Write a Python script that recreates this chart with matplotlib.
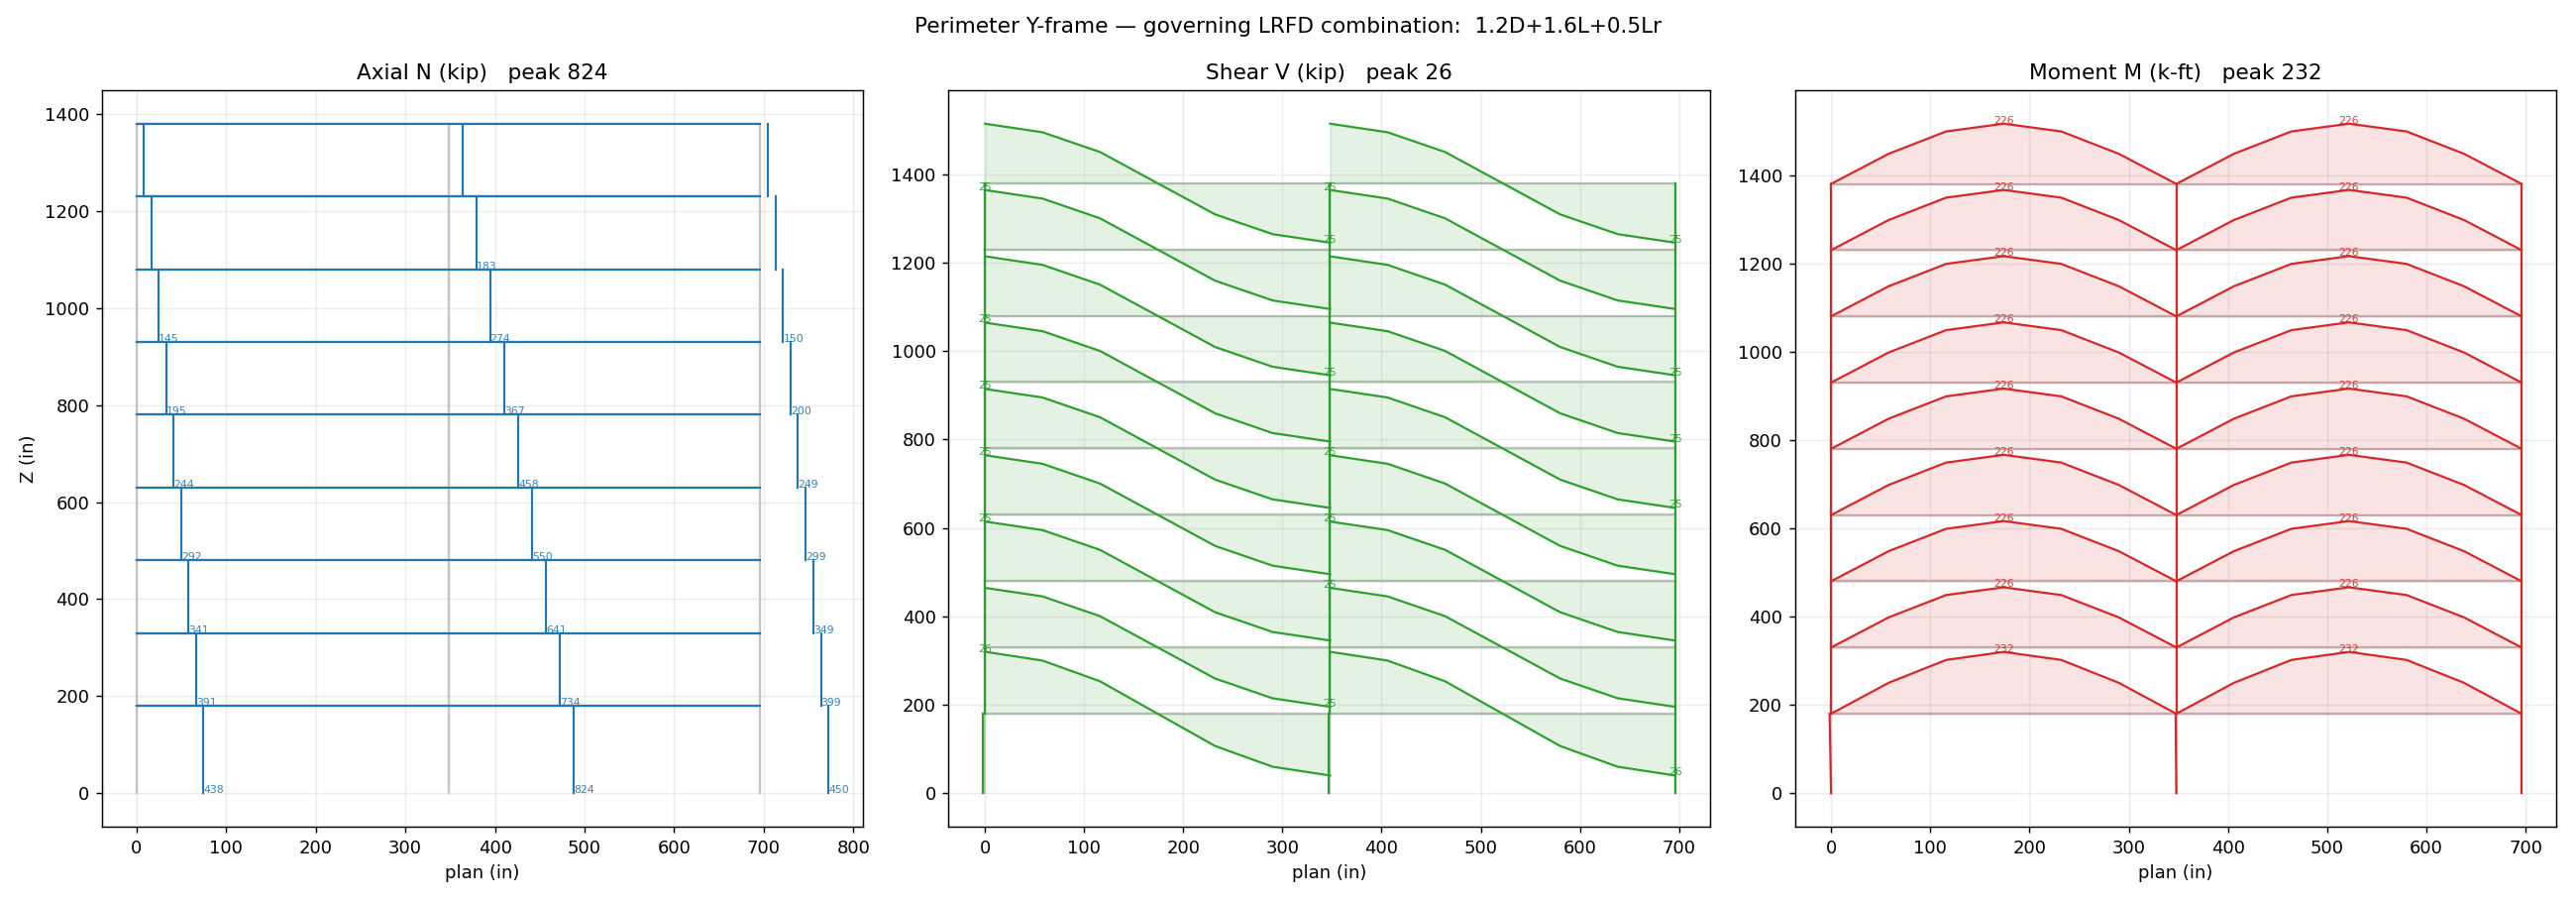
"""Perimeter Y-frame force diagrams for the governing LRFD combination."""

import matplotlib
matplotlib.use("Agg")
import matplotlib.pyplot as plt

# Geometry (in)
STORY_Z = [180, 330, 480, 630, 780, 930, 1080, 1230, 1380]
COLUMN_X = [0, 348, 696]
BEAM_STATIONS = [0, 58, 116, 174, 232, 290, 348]

# Column axial force per segment, base upward (kip)
AXIAL_COL_LEFT = [438, 391, 341, 292, 244, 195, 145, 96, 47]
AXIAL_COL_MID = [824, 734, 641, 550, 458, 367, 274, 183, 92]
AXIAL_COL_RIGHT = [450, 399, 349, 299, 249, 200, 150, 100, 50]

# Beam shear along a span (kip)
SHEAR_LOWEST = [26, 22.3, 13.6, 0, -13.6, -22.3, -26]
SHEAR_TYPICAL = [25, 21.4, 13.1, 0, -13.1, -21.4, -25]
# which end of the span carries the larger shear, per story
SHEAR_PEAK_END_SPAN1 = [0, -1, 0, 0, 0, 0, -1, 0, -1]
SHEAR_PEAK_END_SPAN2 = [-1, 0, 0, 0, -1, -1, -1, 0, -1]
# column shear, lowest segment then the ones above (kip)
COL_SHEAR_BASE = [-0.35, -0.2, 0.0]
COL_SHEAR_UPPER = [-0.1, -0.05, 0.0]

# Beam moment along a span (k-ft)
MOMENT_LOWEST = [0, 116, 202, 232, 202, 116, 0]
MOMENT_TYPICAL = [0, 113, 197, 226, 197, 113, 0]
# column moment at the top of the lowest segment (k-ft)
COL_MOMENT_BASE_TOP = [-2.5, -1.2, 0.0]

BLUE = "#1f77b4"
GREEN = "#2ca02c"
RED = "#d62728"
FRAME_GREY = "0.77"
LW = 1.2
TARGET = 140.0  # largest value is drawn this many inches from the member
LABEL_SIZE = 6


def draw_frame(ax):
    for x in COLUMN_X:
        ax.plot([x, x], [0, STORY_Z[-1]], color=FRAME_GREY, lw=1.3, zorder=1)
    for z in STORY_Z:
        ax.plot([COLUMN_X[0], COLUMN_X[-1]], [z, z], color=FRAME_GREY, lw=1.3, zorder=1)


def draw_span_curve(ax, x0, z, values, scale, color):
    xs = [x0 + s for s in BEAM_STATIONS]
    ys = [z + v * scale for v in values]
    ax.fill_between(xs, z, ys, color=color, alpha=0.13, zorder=2)
    ax.plot(xs, ys, color=color, lw=LW, zorder=3)
    return xs, ys


def plot_axial(ax):
    peak = max(AXIAL_COL_LEFT + AXIAL_COL_MID + AXIAL_COL_RIGHT)
    scale = TARGET / peak
    draw_frame(ax)
    for z in STORY_Z:
        ax.fill_between(COLUMN_X, z, z, color=BLUE, alpha=0.13, zorder=2)
        ax.plot(COLUMN_X, [z, z, z], color=BLUE, lw=LW, zorder=3)
    bottoms = [0] + STORY_Z[:-1]
    columns = [AXIAL_COL_LEFT, AXIAL_COL_MID, AXIAL_COL_RIGHT]
    for x, forces in zip(COLUMN_X, columns):
        for z0, z1, n in zip(bottoms, STORY_Z, forces):
            xn = x + n * scale
            ax.plot([xn, xn], [z0, z1], color=BLUE, lw=LW, zorder=3)
            if n > 0.15 * peak:
                ax.text(xn, z0, f"{n}", color=BLUE, fontsize=LABEL_SIZE, alpha=0.9, zorder=4)
    ax.set_title(f"Axial N (kip)   peak {peak}", fontsize=12)


def plot_shear(ax):
    peak = max(SHEAR_LOWEST)
    scale = TARGET / peak
    draw_frame(ax)
    bottoms = [0] + STORY_Z[:-1]
    for i, z in enumerate(STORY_Z):
        values = SHEAR_LOWEST if i == 0 else SHEAR_TYPICAL
        ends = (SHEAR_PEAK_END_SPAN1[i], SHEAR_PEAK_END_SPAN2[i])
        for x0, end in zip(COLUMN_X[:2], ends):
            xs, ys = draw_span_curve(ax, x0, z, values, scale, GREEN)
            ax.text(xs[end], ys[end], f"{abs(values[end])}", color=GREEN,
                    fontsize=LABEL_SIZE, ha="center", alpha=0.9, zorder=4)
    for j, x in enumerate(COLUMN_X):
        for i, (z0, z1) in enumerate(zip(bottoms, STORY_Z)):
            v = COL_SHEAR_BASE[j] if i == 0 else COL_SHEAR_UPPER[j]
            ax.plot([x + v * scale] * 2, [z0, z1], color=GREEN, lw=LW, zorder=3)
    ax.set_title(f"Shear V (kip)   peak {peak}", fontsize=12)


def plot_moment(ax):
    peak = max(MOMENT_LOWEST)
    scale = TARGET / peak
    draw_frame(ax)
    for i, z in enumerate(STORY_Z):
        values = MOMENT_LOWEST if i == 0 else MOMENT_TYPICAL
        for x0 in COLUMN_X[:2]:
            xs, ys = draw_span_curve(ax, x0, z, values, scale, RED)
            ax.text(xs[3], ys[3], f"{values[3]}", color=RED, fontsize=LABEL_SIZE,
                    ha="center", alpha=0.9, zorder=4)
    for x, m in zip(COLUMN_X, COL_MOMENT_BASE_TOP):
        ax.plot([x, x + m * scale], [0, STORY_Z[0]], color=RED, lw=LW, zorder=3)
        ax.plot([x, x], [STORY_Z[0], STORY_Z[-1]], color=RED, lw=LW, zorder=3)
    ax.set_title(f"Moment M (k-ft)   peak {peak}", fontsize=12)


def main():
    fig, axes = plt.subplots(1, 3, figsize=(20, 7), dpi=130)
    fig.subplots_adjust(left=103 / 2600, right=2580 / 2600, top=1 - 91 / 910,
                        bottom=1 - 834 / 910, wspace=0.112)
    plot_axial(axes[0])
    plot_shear(axes[1])
    plot_moment(axes[2])
    for ax in axes:
        ax.grid(True, alpha=0.22)
        ax.set_axisbelow(True)
        ax.set_xlabel("plan (in)")
    axes[0].set_ylabel("Z (in)")
    fig.suptitle("Perimeter Y-frame \u2014 governing LRFD combination:  1.2D+1.6L+0.5Lr",
                 fontsize=12, y=0.981)
    fig.savefig("out.png", dpi=130)
    plt.close(fig)


if __name__ == "__main__":
    main()
